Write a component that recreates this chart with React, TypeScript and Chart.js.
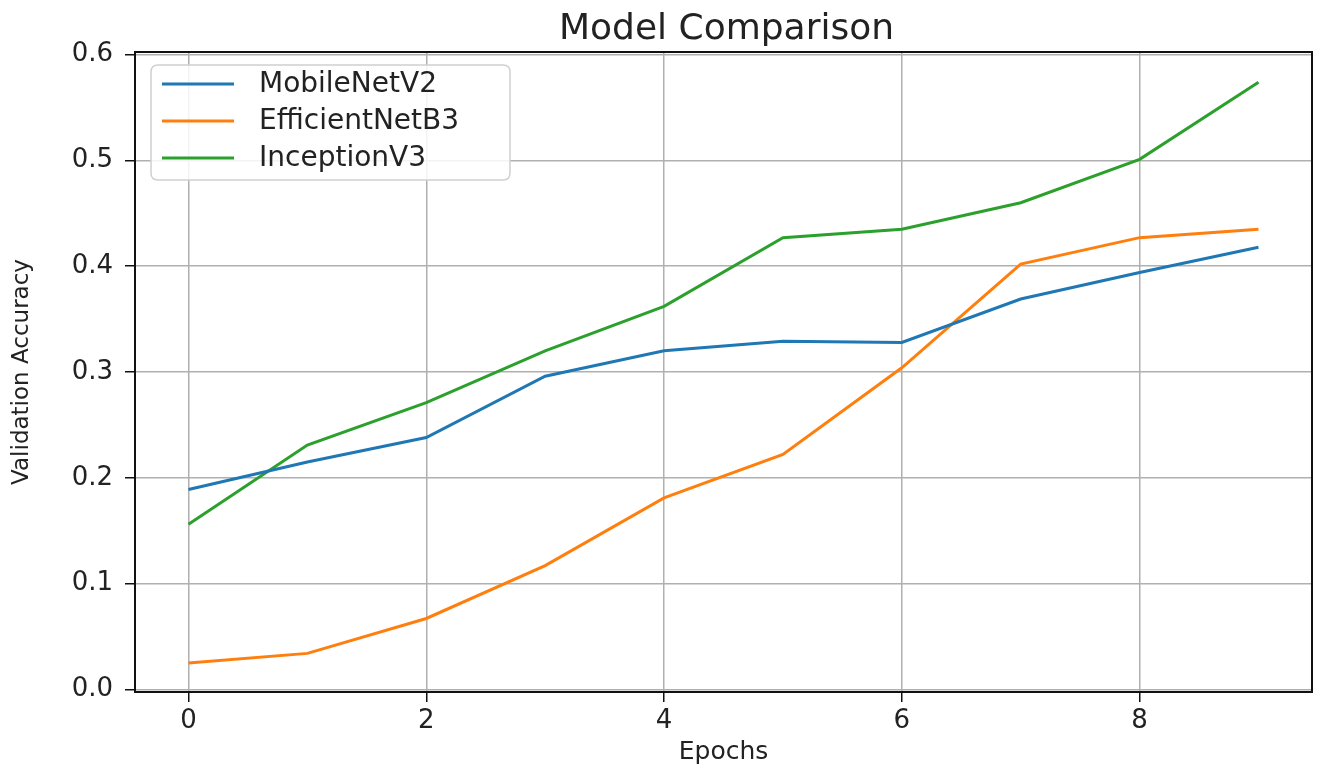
import React, { useEffect, useRef } from "react";
import { Chart, registerables } from "chart.js";

Chart.register(...registerables);

const epochs = [0, 1, 2, 3, 4, 5, 6, 7, 8, 9];
const mobileNetV2 = [0.189, 0.215, 0.238, 0.296, 0.32, 0.329, 0.328, 0.369, 0.394, 0.418];
const efficientNetB3 = [0.025, 0.034, 0.067, 0.117, 0.181, 0.222, 0.304, 0.402, 0.427, 0.435];
const inceptionV3 = [0.156, 0.231, 0.271, 0.32, 0.362, 0.427, 0.435, 0.46, 0.501, 0.574];
const seriesNames = ["MobileNetV2", "EfficientNetB3", "InceptionV3"];
const seriesColors = ["#1f77b4", "#ff7f0e", "#2ca02c"];
const xTicks = [0, 2, 4, 6, 8];
const yTicks = [0.0, 0.1, 0.2, 0.3, 0.4, 0.5, 0.6];
const chartTitle = "Model Comparison";

const FONT = "'DejaVu Sans', sans-serif";
const TEXT = "#222222";

const framePlugin = {
  id: "frame",
  afterDatasetsDraw(chart: any) {
    const { ctx, chartArea } = chart;
    ctx.save();
    ctx.strokeStyle = "#111";
    ctx.lineWidth = 2;
    ctx.strokeRect(chartArea.left, chartArea.top, chartArea.right - chartArea.left, chartArea.bottom - chartArea.top);
    ctx.restore();
  },
};

const axesTitlePlugin = {
  id: "axesTitle",
  afterDraw(chart: any) {
    const { ctx, chartArea } = chart;
    ctx.save();
    ctx.font = `36px ${FONT}`;
    ctx.fillStyle = TEXT;
    ctx.textAlign = "center";
    ctx.textBaseline = "alphabetic";
    ctx.fillText(chartTitle, (chartArea.left + chartArea.right) / 2 + 3, 39);
    ctx.restore();
  },
};

const legendPlugin = {
  id: "mplLegend",
  afterDraw(chart: any) {
    const { ctx, chartArea } = chart;
    const x = chartArea.left + 16;
    const y = chartArea.top + 13;
    const w = 359;
    const h = 115;
    const r = 7;
    ctx.save();
    ctx.beginPath();
    ctx.moveTo(x + r, y);
    ctx.lineTo(x + w - r, y);
    ctx.quadraticCurveTo(x + w, y, x + w, y + r);
    ctx.lineTo(x + w, y + h - r);
    ctx.quadraticCurveTo(x + w, y + h, x + w - r, y + h);
    ctx.lineTo(x + r, y + h);
    ctx.quadraticCurveTo(x, y + h, x, y + h - r);
    ctx.lineTo(x, y + r);
    ctx.quadraticCurveTo(x, y, x + r, y);
    ctx.closePath();
    ctx.fillStyle = "rgba(255,255,255,0.85)";
    ctx.fill();
    ctx.strokeStyle = "#d0d0d0";
    ctx.lineWidth = 1.5;
    ctx.stroke();
    ctx.font = `28px ${FONT}`;
    ctx.textBaseline = "middle";
    ctx.textAlign = "left";
    chart.data.datasets.forEach((ds: any, i: number) => {
      const cy = y + 19 + i * 37;
      ctx.strokeStyle = ds.borderColor;
      ctx.lineWidth = 3;
      ctx.beginPath();
      ctx.moveTo(x + 11, cy);
      ctx.lineTo(x + 83, cy);
      ctx.stroke();
      ctx.fillStyle = TEXT;
      ctx.fillText(ds.label, x + 108, cy + 1);
    });
    ctx.restore();
  },
};

export default function App() {
  const ref = useRef<HTMLCanvasElement | null>(null);
  useEffect(() => {
    document.body.style.margin = "0";
    const canvas = ref.current;
    if (!canvas) return;
    const series = [mobileNetV2, efficientNetB3, inceptionV3];
    const chart = new Chart(canvas, {
      type: "line",
      data: {
        datasets: series.map((vals, i) => ({
          label: seriesNames[i],
          data: epochs.map((e, j) => ({ x: e, y: vals[j] })),
          borderColor: seriesColors[i],
          backgroundColor: seriesColors[i],
          borderWidth: 3,
          pointRadius: 0,
          tension: 0,
          fill: false,
        })),
      },
      options: {
        animation: false,
        responsive: true,
        maintainAspectRatio: false,
        layout: { padding: { left: 0, right: 9, top: 52, bottom: 0 } },
        plugins: {
          legend: { display: false },
          tooltip: { enabled: false },
          title: { display: false },
        },
        scales: {
          x: {
            type: "linear",
            min: -0.45,
            max: 9.45,
            afterBuildTicks: (scale: any) => {
              scale.ticks = xTicks.map((v) => ({ value: v }));
            },
            afterFit: (scale: any) => {
              scale.height = 77;
            },
            ticks: {
              color: TEXT,
              font: { family: FONT, size: 26 },
              padding: 4,
              maxRotation: 0,
              callback: (v: any) => String(v),
            },
            grid: {
              color: "#b0b0b0",
              lineWidth: 1.5,
              tickColor: "#111",
              tickLength: 10,
              tickWidth: 1.5,
            },
            border: { display: true, color: "#111", width: 2 },
            title: {
              display: true,
              text: "Epochs",
              color: TEXT,
              font: { family: FONT, size: 25 },
              padding: { top: 0, bottom: 2 },
            },
          },
          y: {
            type: "linear",
            min: -0.0025,
            max: 0.6025,
            afterBuildTicks: (scale: any) => {
              scale.ticks = yTicks.map((v) => ({ value: v }));
            },
            afterFit: (scale: any) => {
              scale.width = 135;
            },
            ticks: {
              color: TEXT,
              font: { family: FONT, size: 26 },
              padding: 12,
              callback: (v: any) => Number(v).toFixed(1),
            },
            grid: {
              color: "#b0b0b0",
              lineWidth: 1.5,
              tickColor: "#111",
              tickLength: 10,
              tickWidth: 1.5,
            },
            border: { display: true, color: "#111", width: 2 },
            title: {
              display: true,
              text: "Validation Accuracy",
              color: TEXT,
              font: { family: FONT, size: 23 },
              padding: { top: 8, bottom: 0 },
            },
          },
        },
      },
      plugins: [framePlugin, legendPlugin, axesTitlePlugin],
    });
    return () => chart.destroy();
  }, []);
  return (
    <div style={{ position: "fixed", left: 0, top: 0, width: 1321, height: 769, background: "#fff" }}>
      <canvas ref={ref} />
    </div>
  );
}
